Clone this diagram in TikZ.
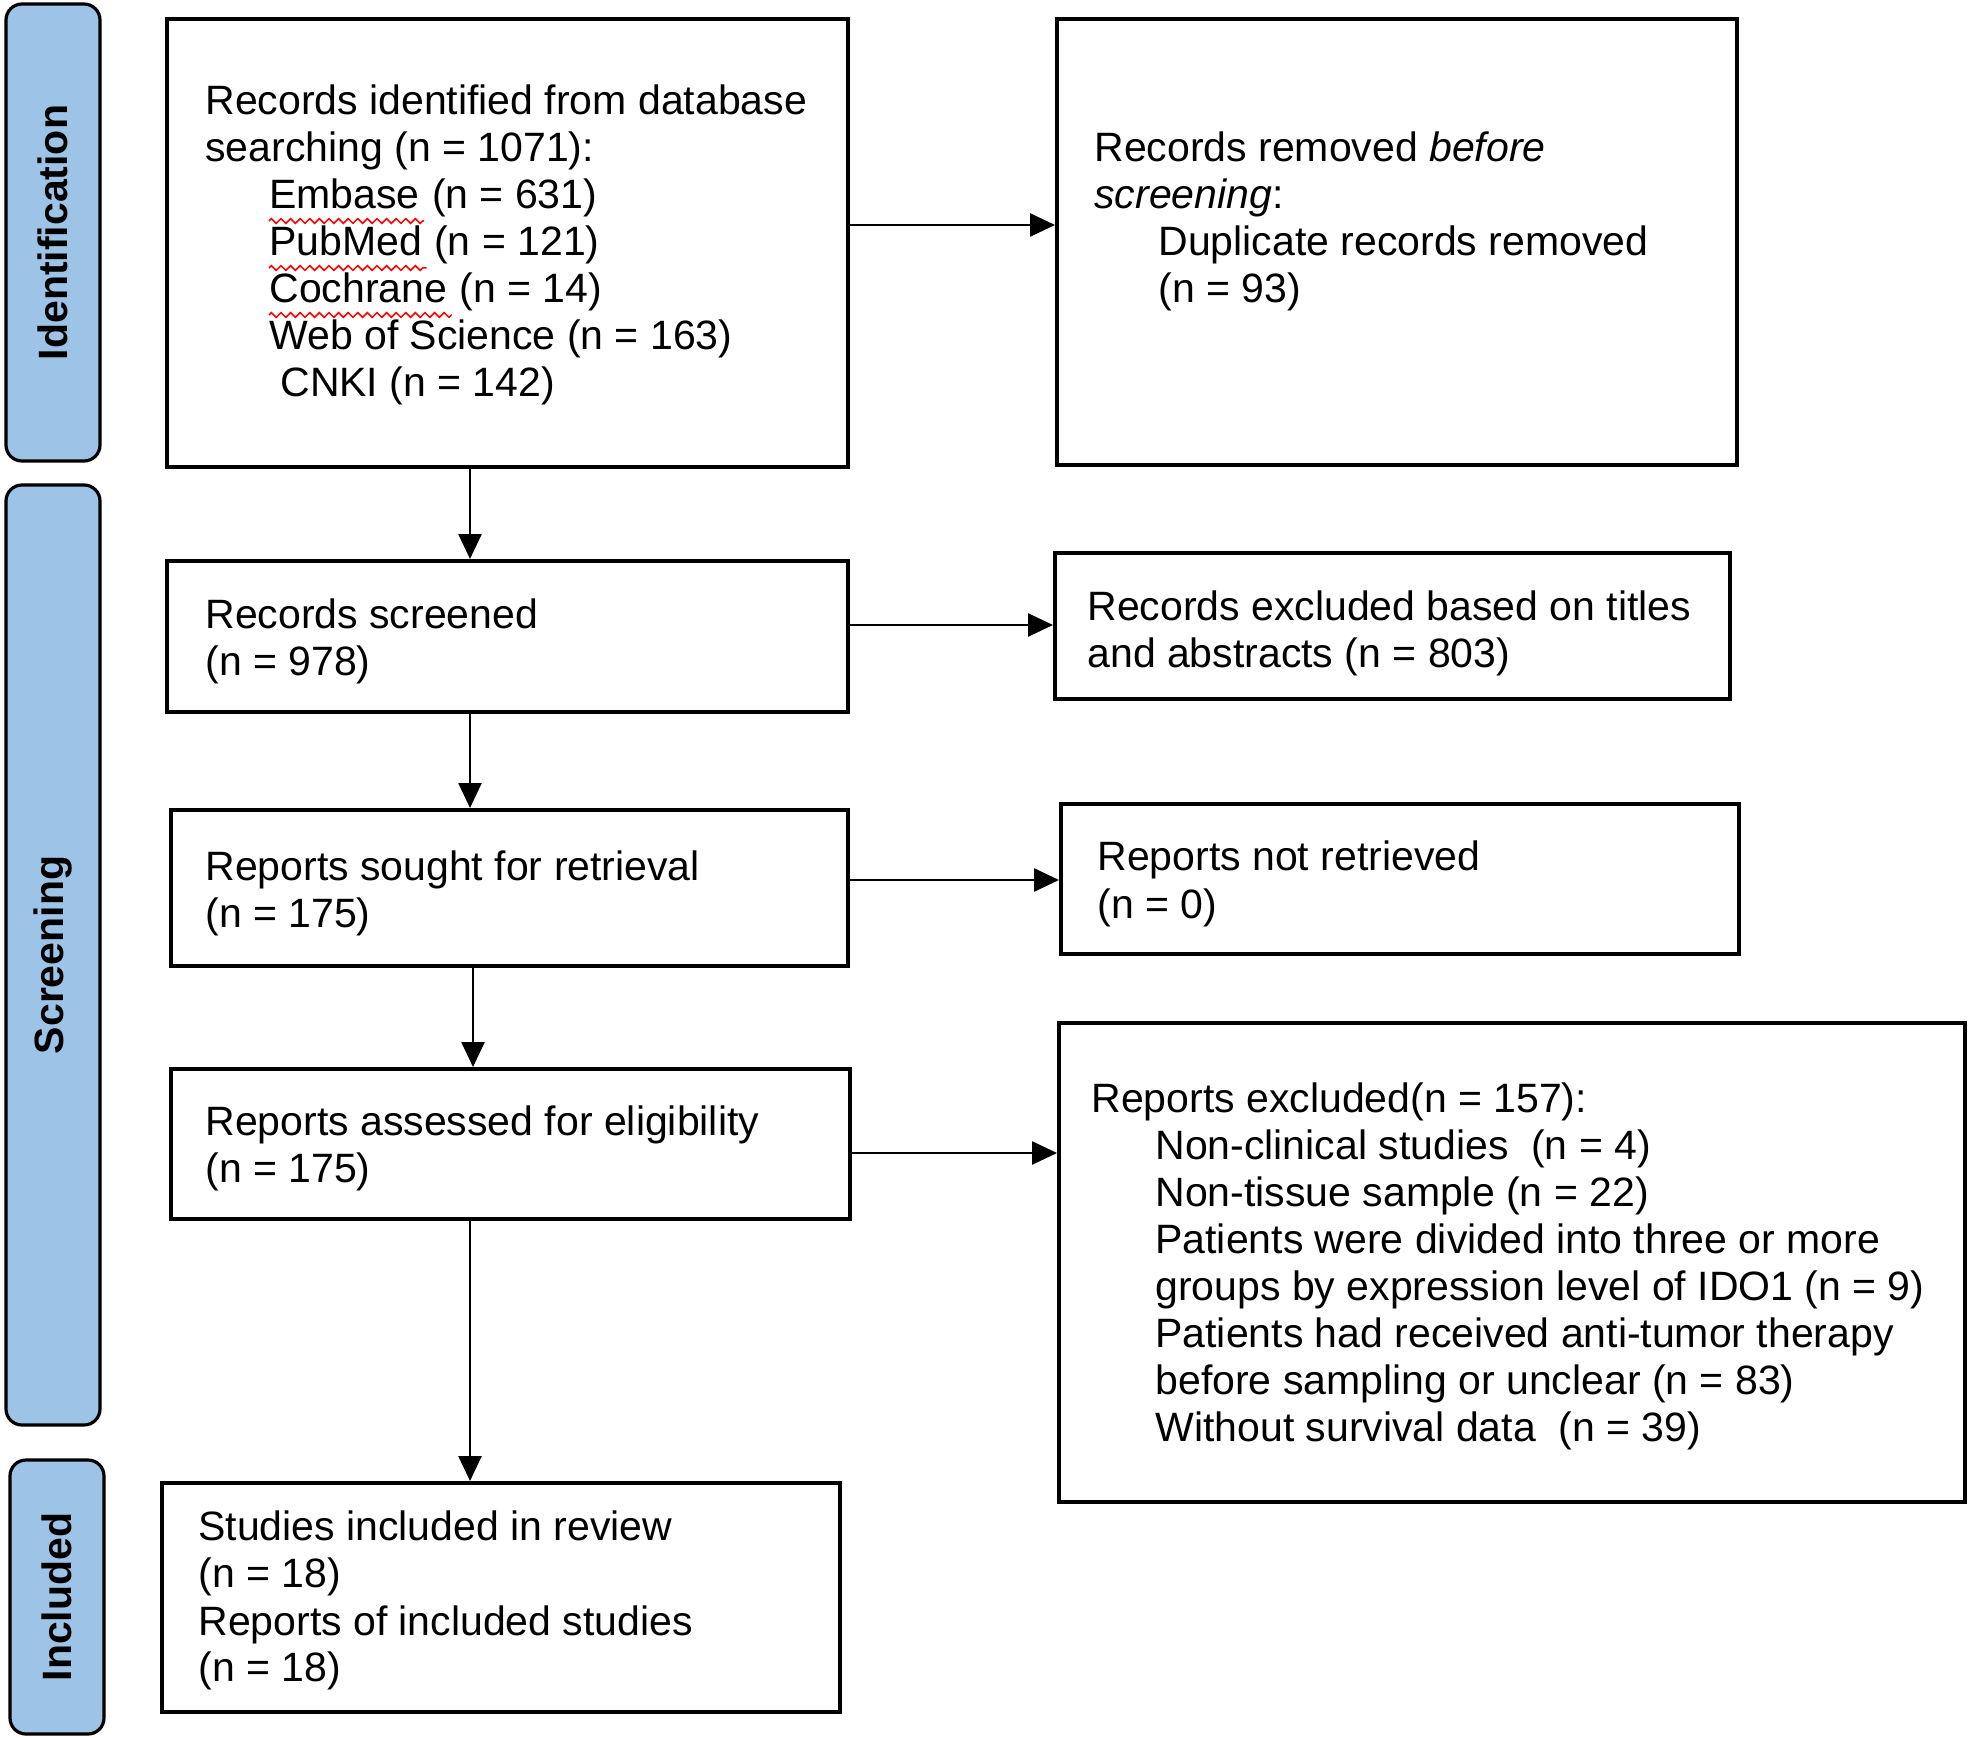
\documentclass[tikz,border=0pt]{standalone}
\usepackage{fontspec}
\setmainfont{Liberation Sans}
\usetikzlibrary{fit,arrows.meta,decorations.pathmorphing}
\definecolor{barblue}{HTML}{9DC3E6}
\newcommand\fsz{\fontsize{20.5}{23.5}\selectfont}
\begin{document}
\begin{tikzpicture}[x=0.5pt,y=-0.5pt,
  box/.style={draw=black, line width=2pt, inner sep=0pt},
  bar/.style={draw=black, line width=1.6pt, fill=barblue, rounded corners=8pt, inner sep=0pt},
  bartext/.style={rotate=90, font=\fsz\bfseries, inner sep=0pt},
  txtc/.style={anchor=base west, inner sep=0pt, font=\fsz},
  txt/.style={txtc, yshift=-1.5pt},
  arr/.style={line width=1.3pt, -{Triangle[length=12.5pt,width=11.5pt]}},
  squig/.style={draw=red, line width=0.75pt, decorate, decoration={zigzag, segment length=4.8pt, amplitude=1.2pt}}
]
\useasboundingbox (0,0) rectangle (1969,1738);
\fill[white] (0,0) rectangle (1969,1738);

% side bars
\node[bar, fit={(6,4) (100,461)}] (sid) {};
\node[bartext] (tid) at (sid.center) {Identification};
\node[bar, fit={(6,485) (100,1425)}] (ssc) {};
\node[bartext] (tsc) at (ssc.center) {Screening};
\node[bar, fit={(10,1460) (104,1734)}] (sin) {};
\node[bartext] (tin) at (sin.center) {Included};

% boxes
\node[box, fit={(167,19) (848,467)}] (b1) {};
\node[box, fit={(1057,19) (1737,465)}] (rem) {};
\node[box, fit={(167,561) (848,712)}] (b2) {};
\node[box, fit={(1055,553) (1730,699)}] (exc) {};
\node[box, fit={(171,810) (848,966)}] (b3) {};
\node[box, fit={(1061,804) (1739,954)}] (nr) {};
\node[box, fit={(171,1069) (850,1219)}] (b4) {};
\node[box, fit={(1059,1023) (1965,1502)}] (rex) {};
\node[box, fit={(162,1483) (840,1712)}] (b5) {};

% box 1 text
\node[txt] (t11) at (205,112) {Records identified from database};
\node[txt] (t12) at (205,159) {searching (n = 1071):};
\node[txt] (emb) at (269,206) {Embase};
\node[txtc] (embn) at (emb.base east) {\ (n = 631)};
\node[txt] (pub) at (269,253) {PubMed};
\node[txtc] (pubn) at (pub.base east) {\ (n = 121)};
\node[txt] (coc) at (269,300) {Cochrane};
\node[txtc] (cocn) at (coc.base east) {\ (n = 14)};
\node[txt] (wos) at (269,347) {Web of Science (n = 163)};
\node[txt] (cnk) at (280,394) {CNKI (n = 142)};
\draw[squig] ([yshift=-6pt]emb.base west) -- ([yshift=-6pt,xshift=2pt]emb.base east);
\draw[squig] ([yshift=-6pt]pub.base west) -- ([yshift=-6pt,xshift=2pt]pub.base east);
\draw[squig] ([yshift=-6pt]coc.base west) -- ([yshift=-6pt,xshift=2pt]coc.base east);

% removed box text
\node[txt] (r1) at (1094,159) {Records removed \textit{before}};
\node[txt] (r2) at (1094,206) {\textit{screening}:};
\node[txt] (r3) at (1158,253) {Duplicate records removed};
\node[txt] (r4) at (1158,300) {(n = 93)};

% screened
\node[txt] (s1) at (205,625) {Records screened};
\node[txt] (s2) at (205,672) {(n = 978)};
\node[txt] (e1) at (1087,617) {Records excluded based on titles};
\node[txt] (e2) at (1087,664) {and abstracts (n = 803)};

% sought
\node[txt] (g1) at (205,877) {Reports sought for retrieval};
\node[txt] (g2) at (205,924) {(n = 175)};
\node[txt] (n1) at (1097,867) {Reports not retrieved};
\node[txt] (n2) at (1097,915) {(n = 0)};

% assessed
\node[txt] (a1) at (205,1132) {Reports assessed for eligibility};
\node[txt] (a2) at (205,1179) {(n = 175)};
\node[txt] (x0) at (1091,1109) {Reports excluded(n = 157):};
\node[txt] (x1) at (1155,1156) {Non-clinical studies\ \ (n = 4)};
\node[txt] (x2) at (1155,1203) {Non-tissue sample (n = 22)};
\node[txt] (x3) at (1155,1250) {Patients were divided into three or more};
\node[txt] (x4) at (1155,1297) {groups by expression level of IDO1 (n = 9)};
\node[txt] (x5) at (1155,1344) {Patients had received anti-tumor therapy};
\node[txt] (x6) at (1155,1391) {before sampling or unclear (n = 83)};
\node[txt] (x7) at (1155,1438) {Without survival data\ \ (n = 39)};

% included
\node[txt] (i1) at (198,1537) {Studies included in review};
\node[txt] (i2) at (198,1584) {(n = 18)};
\node[txt] (i3) at (198,1632) {Reports of included studies};
\node[txt] (i4) at (198,1678) {(n = 18)};

% arrow lanes
\coordinate (v1) at (470,0);
\coordinate (v3) at (473,0);
\coordinate (h1) at (0,225);
\coordinate (h2) at (0,625);
\coordinate (h3) at (0,880);
\coordinate (h4) at (0,1153);

\draw[arr] (b1.south -| v1) -- (b2.north -| v1);
\draw[arr] (b2.south -| v1) -- (b3.north -| v1);
\draw[arr] (b3.south -| v3) -- (b4.north -| v3);
\draw[arr] (b4.south -| v1) -- (b5.north -| v1);

\draw[arr] (b1.east |- h1) -- (rem.west |- h1);
\draw[arr] (b2.east |- h2) -- (exc.west |- h2);
\draw[arr] (b3.east |- h3) -- (nr.west |- h3);
\draw[arr] (b4.east |- h4) -- (rex.west |- h4);
\end{tikzpicture}
\end{document}
